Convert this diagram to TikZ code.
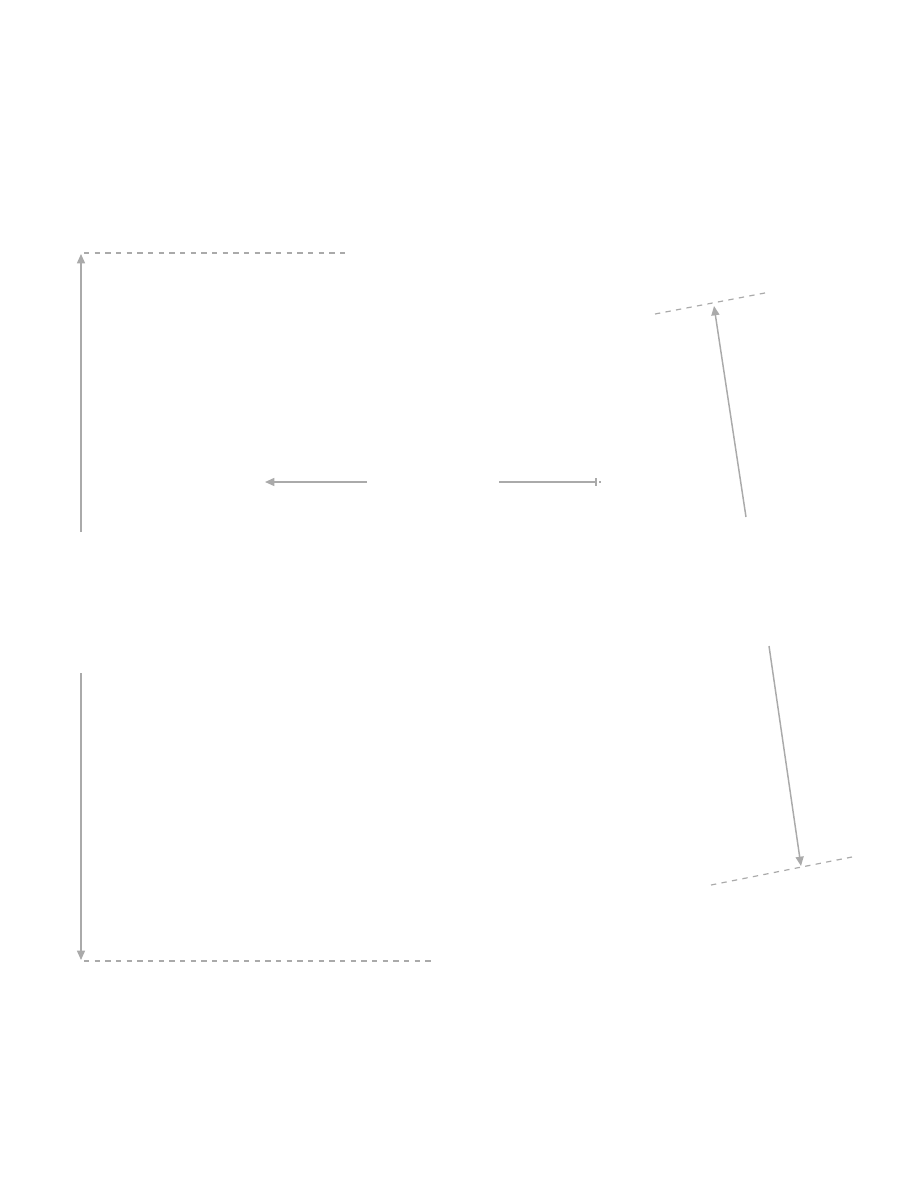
\documentclass[tikz,border=0pt]{standalone}
\usepackage{xcolor}
\usepackage{tikz}
\usetikzlibrary{arrows.meta}
\definecolor{dimgray}{HTML}{AAAAAA}

\begin{document}
\begin{tikzpicture}[
  x = 0.75pt, y = -0.75pt,
  dimline/.style = {draw = dimgray, line width = 1.1pt, -{Triangle[length = 7pt, width = 6pt]}},
  guide/.style = {draw = dimgray, line width = 0.9pt, dash pattern = on 4pt off 4pt}
  ]
  \useasboundingbox (0,0) rectangle (900,1200);
  % left side
  \coordinate (lt) at (81,532);
  \coordinate (ltend) at (81,254);
  \coordinate (lb) at (81,673);
  \coordinate (lbend) at (81,960);
  \draw[dimline] (lt) -- (ltend);
  \draw[dimline] (lb) -- (lbend);
  \draw[guide] (84,253) -- (345,253);
  \draw[guide] (84,961) -- (432,961);
  % middle
  \coordinate (ml) at (367,482);
  \coordinate (mlend) at (265,482);
  \coordinate (mr) at (499,482);
  \coordinate (mrend) at (597,482);
  \draw[dimline] (ml) -- (mlend);
  \draw[draw = dimgray, line width = 1.1pt, -{Bar[width = 6pt, line width = 1.5pt]}] (mr) -- (mrend);
  \draw[guide] (599,482) -- (601,482);
  % right side
  \coordinate (rt) at (746,517);
  \coordinate (rtend) at (714,306);
  \coordinate (rb) at (769,646);
  \coordinate (rbend) at (801,866);
  \draw[dimline] (rt) -- (rtend);
  \draw[dimline] (rb) -- (rbend);
  \draw[guide] (655,314) -- (770,292);
  \draw[guide] (711,885) -- (852,857);
\end{tikzpicture}
\end{document}
